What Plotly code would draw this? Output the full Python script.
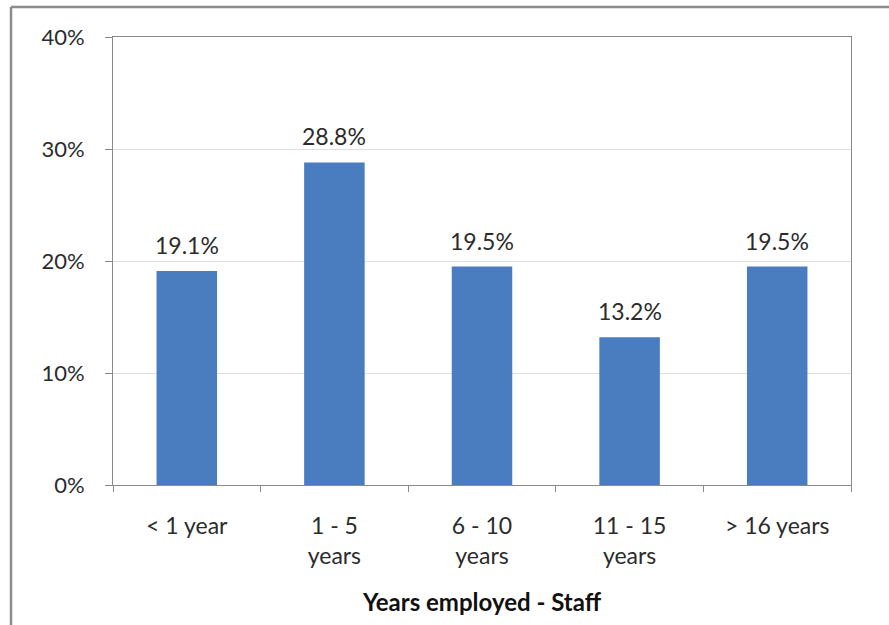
import plotly.graph_objects as go

# Share of staff by length of employment
categories = ["< 1 year", "1 - 5<br>years", "6 - 10<br>years", "11 - 15<br>years", "> 16 years"]
shares = [19.1, 28.8, 19.5, 13.2, 19.5]
y_ticks = [0, 10, 20, 30, 40]
y_tick_labels = ["0%", "10%", "20%", "30%", "40%"]

FONT = "Lato, 'Open Sans', sans-serif"
TEXT = "#2b2b2b"
AXIS = "#8a8a8a"

fig = go.Figure(
    go.Bar(
        x=categories,
        y=shares,
        marker=dict(color="#4a7dc0", line=dict(width=0)),
        width=0.41,
        hoverinfo="skip",
    )
)

# value labels above each bar
for cat, val in zip(categories, shares):
    fig.add_annotation(
        x=cat, y=val, text=f"{val}%", showarrow=False,
        yanchor="bottom", yshift=10,
        font=dict(family=FONT, size=23, color=TEXT),
    )

# outer chart frame (top and left edges)
fig.add_shape(
    type="line", xref="paper", yref="paper",
    x0=-0.1382, x1=-0.1382, y0=-0.35, y1=1.067,
    line=dict(color="#8c8c8c", width=2.5),
)
fig.add_shape(
    type="line", xref="paper", yref="paper",
    x0=-0.1382, x1=1.1, y0=1.067, y1=1.067,
    line=dict(color="#8c8c8c", width=2.5),
)

fig.update_layout(
    width=889, height=625,
    margin=dict(l=113, r=38, t=37, b=140),
    paper_bgcolor="white", plot_bgcolor="white",
    showlegend=False,
    font=dict(family=FONT, size=23, color=TEXT),
    xaxis=dict(
        showline=True, linecolor=AXIS, linewidth=1, mirror=True,
        ticks="outside", ticklen=6, tickcolor=AXIS, tickson="boundaries",
        showgrid=False,
        tickfont=dict(family=FONT, size=23, color=TEXT),
        ticklabelstandoff=20,
        title=dict(text="<b>Years employed - Staff</b>", standoff=26,
                   font=dict(family=FONT, size=24, color="#111111")),
    ),
    yaxis=dict(
        range=[0, 40], tickvals=y_ticks, ticktext=y_tick_labels,
        showline=True, linecolor=AXIS, linewidth=1, mirror=True,
        ticks="outside", ticklen=7, tickcolor=AXIS,
        showgrid=True, gridcolor="#dedede", gridwidth=1,
        zeroline=False,
        tickfont=dict(family=FONT, size=22, color=TEXT),
        ticklabelstandoff=16,
    ),
)

fig.write_html("out.html")
